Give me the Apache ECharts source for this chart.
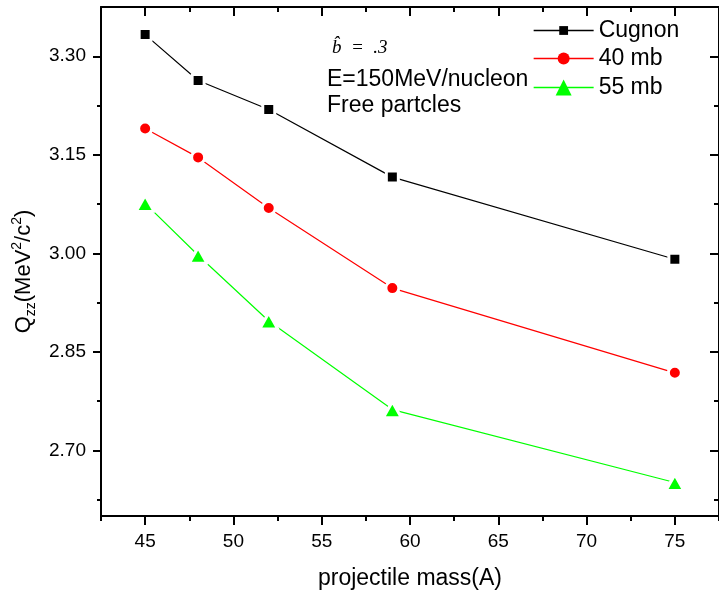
<!DOCTYPE html>
<html>
<head>
<meta charset="utf-8">
<style>
  html, body { margin: 0; padding: 0; background: #fff; overflow: hidden; }
  #chart { width: 719px; height: 595px; }
</style>
<script src="https://cdn.jsdelivr.net/npm/echarts@6/dist/echarts.min.js"></script>
</head>
<body>
<div id="chart"></div>
<script>
// Projectile mass numbers (A)
const massNumbers = [45, 48, 52, 59, 75];
// Quadrupole moment Q_zz (MeV^2/c^2) for each model
const cugnon = [3.333, 3.263, 3.219, 3.116, 2.991];
const mb40 = [3.190, 3.146, 3.069, 2.947, 2.818];
const mb55 = [3.076, 2.997, 2.897, 2.762, 2.651];

// Tick positions
const xMajorTicks = [45, 50, 55, 60, 65, 70, 75];
const xMinorTicks = [42.5, 47.5, 52.5, 57.5, 62.5, 67.5, 72.5, 77.5];
const yMajorTicks = [2.70, 2.85, 3.00, 3.15, 3.30];
const yMinorTicks = [2.625, 2.775, 2.925, 3.075, 3.225];

const X_MIN = 42.5, X_MAX = 77.5;
const Y_MIN = 2.60, Y_MAX = 3.375;

const FONT = "'Liberation Sans', Arial, sans-serif";
const AXIS_COLOR = '#000';

function pairs(xs, ys) { return xs.map((x, i) => [x, ys[i]]); }

function tickAxis(base, values, len, inside, extra) {
  return Object.assign({
    type: 'value', min: base.min, max: base.max,
    axisLine: { show: false },
    axisTick: { show: true, inside: inside, length: len, customValues: values,
                lineStyle: { color: AXIS_COLOR, width: 2 } },
    axisLabel: { show: false },
    splitLine: { show: false }
  }, extra);
}

const xr = { min: X_MIN, max: X_MAX };
const yr = { min: Y_MIN, max: Y_MAX };

const xAxes = [
  tickAxis(xr, xMajorTicks, 9, false, {
    position: 'bottom',
    axisLine: { show: true, lineStyle: { color: AXIS_COLOR, width: 2 } },
    axisLabel: { show: true, customValues: xMajorTicks, fontSize: 19, fontFamily: FONT,
                 color: '#000', margin: 16 },
    name: 'projectile mass(A)', nameLocation: 'middle', nameGap: 51,
    nameTextStyle: { fontSize: 23, fontFamily: FONT, color: '#000' }
  }),
  tickAxis(xr, xMinorTicks, 5, false, { position: 'bottom' }),
  tickAxis(xr, xMajorTicks, 9, true, {
    position: 'top',
    axisLine: { show: true, lineStyle: { color: AXIS_COLOR, width: 2 } }
  }),
  tickAxis(xr, xMinorTicks, 5, true, { position: 'top' })
];

const yAxes = [
  tickAxis(yr, yMajorTicks, 8, false, {
    position: 'left',
    axisLine: { show: true, lineStyle: { color: AXIS_COLOR, width: 2 } },
    axisLabel: { show: true, customValues: yMajorTicks, fontSize: 19, fontFamily: FONT,
                 color: '#000', margin: 15, formatter: v => v.toFixed(2) },
    name: '{t|Q}{sub|zz}{t|(MeV}{sup|2}{t|/c}{sup|2}{t|)}',
    nameLocation: 'middle', nameRotate: 90, nameGap: 61,
    nameTextStyle: {
      fontFamily: FONT, color: '#000', padding: [0, 20, 0, 0],
      rich: {
        t: { fontSize: 22, lineHeight: 28, fontFamily: FONT, color: '#000' },
        sub: { fontSize: 14, lineHeight: 14, verticalAlign: 'bottom', fontFamily: FONT, color: '#000' },
        sup: { fontSize: 14, lineHeight: 14, verticalAlign: 'top', fontFamily: FONT, color: '#000' }
      }
    }
  }),
  tickAxis(yr, yMinorTicks, 4, false, { position: 'left' }),
  tickAxis(yr, yMajorTicks, 9, true, {
    position: 'right',
    axisLine: { show: true, lineStyle: { color: AXIS_COLOR, width: 2 } }
  }),
  tickAxis(yr, yMinorTicks, 5, true, { position: 'right' })
];

function lineSeries(name, data, color, symbol, size) {
  return {
    name: name, type: 'line', xAxisIndex: 0, yAxisIndex: 0,
    data: pairs(massNumbers, data),
    symbol: symbol, symbolSize: size,
    lineStyle: { color: color, width: 1.2 },
    itemStyle: { color: color, borderColor: '#fff', borderWidth: 3, borderJoin: 'round' },
    emphasis: { disabled: true },
    z: 3
  };
}

function legendFor(name, top, iconH) {
  return {
    data: [name], left: 533, top: top, orient: 'vertical', padding: 0,
    itemWidth: 60, itemHeight: iconH, itemGap: 0,
    itemStyle: { borderWidth: 0 },
    lineStyle: { width: 1.3 },
    textStyle: { fontSize: 23, fontFamily: FONT, color: '#000', lineHeight: 22 },
    selectedMode: false
  };
}

const chart = echarts.init(document.getElementById('chart'), null, { renderer: 'canvas' });
chart.setOption({
  animation: false,
  backgroundColor: '#fff',
  grid: { left: 101, right: -7, top: 7, bottom: 78, containLabel: false },
  xAxis: xAxes,
  yAxis: yAxes,
  legend: [
    legendFor('Cugnon', 19, 11),
    legendFor('40 mb', 47, 15),
    legendFor('55 mb', 76, 20)
  ],
  series: [
    lineSeries('Cugnon', cugnon, '#000000', 'rect', 12),
    lineSeries('40 mb', mb40, '#ff0000', 'circle', 13),
    lineSeries('55 mb', mb55, '#00ff00', 'triangle', [18, 16])
  ],
  graphic: [
    { type: 'text', x: 332, y: 48,
      style: { text: 'b\u0302\u2002=\u2002.3', fontSize: 19, fontStyle: 'italic',
               fontFamily: "'Liberation Serif', 'Times New Roman', serif",
               fill: '#000', verticalAlign: 'middle' } },
    { type: 'text', x: 327, y: 80,
      style: { text: 'E=150MeV/nucleon', fontSize: 23, fontFamily: FONT,
               fill: '#000', verticalAlign: 'middle' } },
    { type: 'text', x: 327, y: 106,
      style: { text: 'Free partcles', fontSize: 23, fontFamily: FONT,
               fill: '#000', verticalAlign: 'middle' } }
  ]
});
</script>
</body>
</html>
